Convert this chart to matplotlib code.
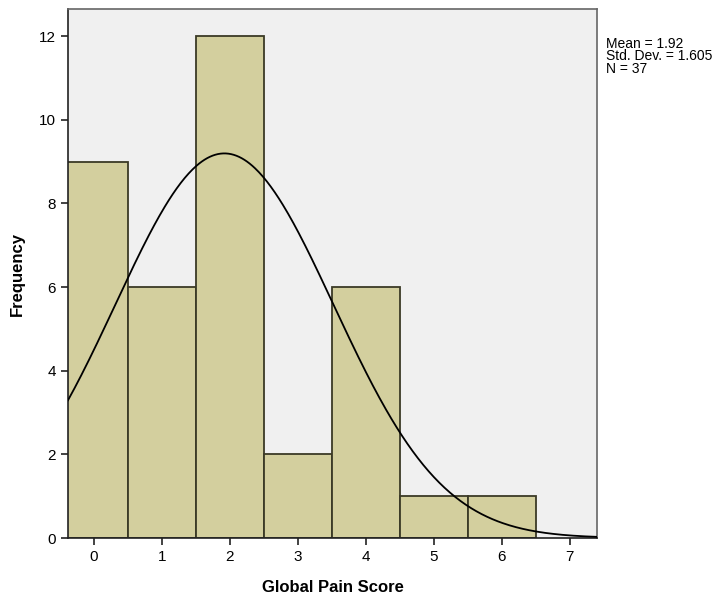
import numpy as np
import matplotlib
matplotlib.use("Agg")
import matplotlib.pyplot as plt

plt.rcParams["font.family"] = ["Liberation Sans", "DejaVu Sans"]

# histogram of Global Pain Score (bin centres and counts)
scores = [0, 1, 2, 3, 4, 5, 6]
counts = [9, 6, 12, 2, 6, 1, 1]
mean, sd, n = 1.92, 1.605, 37

fig = plt.figure(figsize=(7.14, 5.97), dpi=100)
ax = fig.add_axes([68 / 714, 59 / 597, 529 / 714, 529 / 597])
ax.set_facecolor("#f0f0f0")

ax.bar(scores, counts, width=1.0, color="#d3cf9e", edgecolor="#3b3a26", linewidth=1.3, zorder=2)

xs = np.linspace(-0.38, 7.40, 400)
ys = n * 1.0 / (sd * np.sqrt(2 * np.pi)) * np.exp(-0.5 * ((xs - mean) / sd) ** 2)
ax.plot(xs, ys, color="black", lw=1.3, zorder=3)

ax.set_xlim(-0.38, 7.40)
ax.set_ylim(0, 12.65)
ax.set_xticks(range(0, 8))
ax.set_yticks(range(0, 13, 2))
ax.tick_params(direction="out", length=5, width=1.2, labelsize=11, color="#222222")
for s in ax.spines.values():
    s.set_linewidth(1.2)
ax.spines["left"].set_color("#222222")
ax.spines["bottom"].set_color("#222222")
ax.spines["top"].set_color("#666666")
ax.spines["right"].set_color("#666666")

ax.set_xlabel("Global Pain Score", fontsize=12, fontweight="bold", labelpad=12)
ax.set_ylabel("Frequency", fontsize=12, fontweight="bold", labelpad=10)

fig.text(606 / 714, 1 - 37 / 597, "Mean = 1.92\nStd. Dev. = 1.605\nN = 37",
         fontsize=10, va="top", ha="left", linespacing=0.85)

fig.savefig("out.png", dpi=100)
